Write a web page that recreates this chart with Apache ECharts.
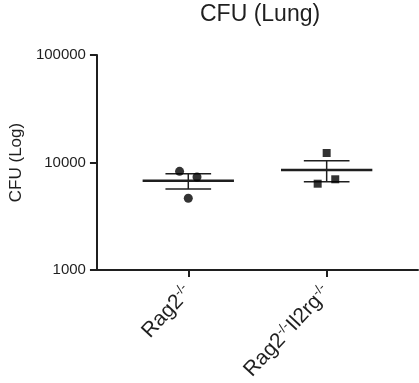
<!DOCTYPE html>
<html>
<head>
<meta charset="utf-8">
<script src="https://cdn.jsdelivr.net/npm/echarts@6/dist/echarts.min.js"></script>
<style>
  html, body { margin: 0; padding: 0; background: #fff; }
  #chart { width: 419px; height: 383px; }
</style>
</head>
<body>
<div id="chart"></div>
<script>
// 数据
var groups = ['Rag2-/-', 'Rag2-/-Il2rg-/-']
var rag2Values = [8280, 7330, 4650]
var rag2Jitter = [-0.063, 0.063, 0]
var ilValues = [12250, 6350, 6980]
var ilJitter = [0, -0.065, 0.062]
var means = [6750, 8530]
var semLow = [5670, 6630]
var semHigh = [7870, 10400]
var yTicks = [1000, 10000, 100000]

var ink = '#1f1f1f'
var font = 'Liberation Sans, Arial, sans-serif'

var chart = echarts.init(document.getElementById('chart'))

function pts(vals, jit, g) {
    return vals.map(function (v, i) { return [g + 1 + jit[i], v] })
}

var summary = means.map(function (m, i) { return [i + 1, m, semLow[i], semHigh[i]] })

var option = {
    animation: false,
    title: {
        text: 'CFU (Lung)',
        left: 195,
        top: -2,
        textStyle: { fontFamily: font, fontSize: 23, fontWeight: 'normal', color: ink },
    },
    grid: { left: 96, right: 1, top: 55, bottom: 113 },
    xAxis: {
        type: 'value',
        min: 0.34,
        max: 2.66,
        splitLine: { show: false },
        axisLine: { show: true, lineStyle: { color: ink, width: 2 } },
        axisTick: { show: true, customValues: [1, 2], length: 7, lineStyle: { color: ink, width: 2 } },
        axisLabel: {
            customValues: [1, 2],
            rotate: 47,
            margin: 19,
            fontFamily: font,
            color: ink,
            formatter: function (v) {
                return v === 1 ? '{n|Rag2}{s|-/-}' : '{n|Rag2}{s|-/-}{n|Il2rg}{s|-/-}'
            },
            rich: {
                n: { fontSize: 21, fontFamily: font, color: ink },
                s: { fontSize: 13, fontFamily: font, color: ink, padding: [0, 0, 10, 0] },
            },
        },
    },
    yAxis: {
        type: 'log',
        logBase: 10,
        min: 1000,
        max: 100000,
        name: 'CFU (Log)',
        nameLocation: 'middle',
        nameRotate: 90,
        nameGap: 70,
        nameTextStyle: { fontFamily: font, fontSize: 17, color: ink },
        splitLine: { show: false },
        axisLine: { show: true, lineStyle: { color: ink, width: 2 } },
        axisTick: { show: true, length: 7, lineStyle: { color: ink, width: 2 } },
        axisLabel: {
            fontFamily: font,
            fontSize: 15,
            color: ink,
            margin: 11,
            formatter: function (v) { return yTicks.indexOf(v) >= 0 ? String(v) : '' },
        },
    },
    series: [
        {
            type: 'custom',
            data: summary,
            z: 3,
            renderItem: function (params, api) {
                var c = api.coord([api.value(0), api.value(1)])
                var lo = api.coord([api.value(0), api.value(2)])
                var hi = api.coord([api.value(0), api.value(3)])
                var w = api.size([0.33, 0])[0]
                var cap = api.size([0.165, 0])[0]
                var thin = { stroke: ink, lineWidth: 1.5 }
                return {
                    type: 'group',
                    children: [
                        { type: 'line', shape: { x1: c[0] - w, y1: c[1], x2: c[0] + w, y2: c[1] }, style: { stroke: ink, lineWidth: 2.5 } },
                        { type: 'line', shape: { x1: c[0], y1: lo[1], x2: c[0], y2: hi[1] }, style: thin },
                        { type: 'line', shape: { x1: c[0] - cap, y1: lo[1], x2: c[0] + cap, y2: lo[1] }, style: thin },
                        { type: 'line', shape: { x1: c[0] - cap, y1: hi[1], x2: c[0] + cap, y2: hi[1] }, style: thin },
                    ],
                }
            },
        },
        {
            type: 'scatter',
            symbol: 'circle',
            symbolSize: 9,
            itemStyle: { color: '#000' },
            z: 4,
            data: pts(rag2Values, rag2Jitter, 0),
        },
        {
            type: 'scatter',
            symbol: 'rect',
            symbolSize: 8,
            itemStyle: { color: '#000' },
            z: 4,
            data: pts(ilValues, ilJitter, 1),
        },
    ],
}
chart.setOption(option)
</script>
</body>
</html>
